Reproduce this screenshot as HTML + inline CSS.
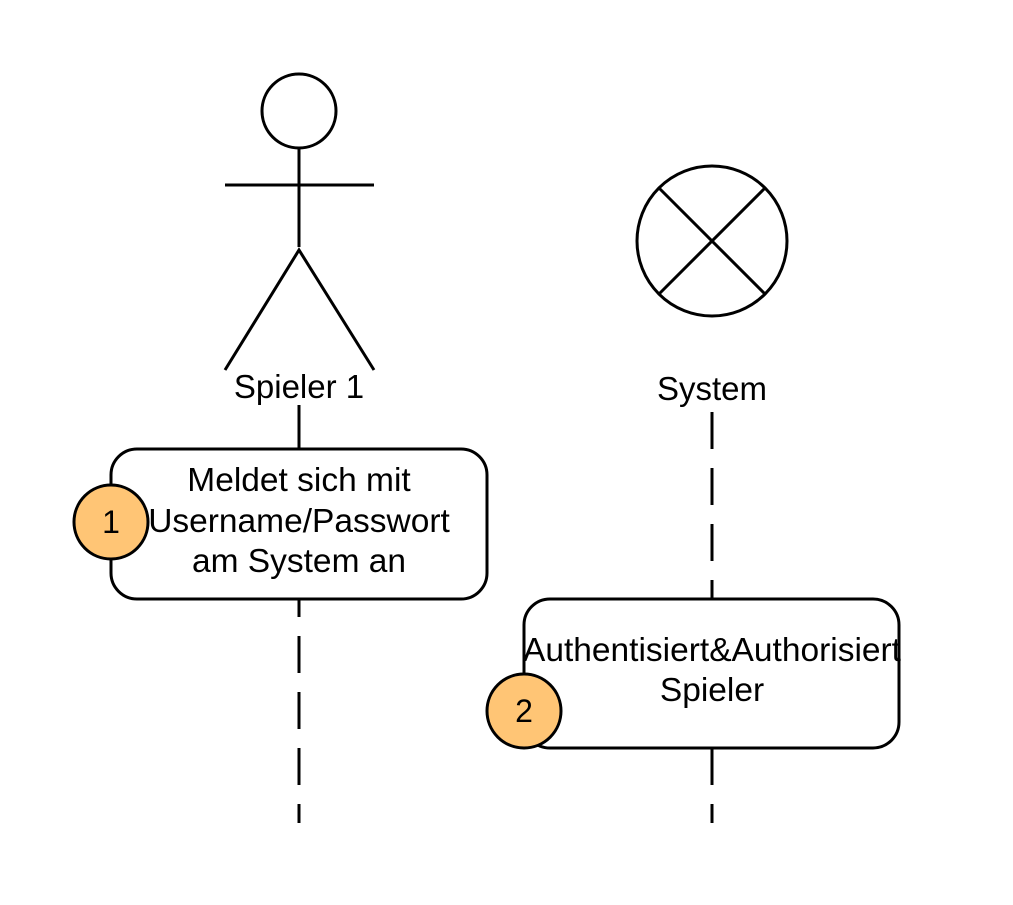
<!DOCTYPE html>
<html><head><style>body{margin:0;background:#fff} text{font-family:"Liberation Sans",Arial,sans-serif}</style></head><body>
<svg width="1013" height="900" xmlns="http://www.w3.org/2000/svg">
<g stroke="#000" stroke-width="3" fill="none">
<circle cx="299" cy="111" r="37" fill="#fff"/>
<line x1="299" y1="148" x2="299" y2="247"/>
<line x1="225" y1="185" x2="374" y2="185"/>
<polyline points="225,370 299,250 374,370"/>
<circle cx="712" cy="241" r="75" fill="#fff"/>
<line x1="659" y1="188" x2="765" y2="294"/>
<line x1="765" y1="188" x2="659" y2="294"/>
<line x1="299" y1="405" x2="299" y2="449"/>
<line x1="299" y1="449" x2="299" y2="823" stroke-dasharray="37 19" stroke-dashoffset="-19"/>
<line x1="712" y1="412" x2="712" y2="823" stroke-dasharray="37 19"/>
<rect x="111" y="449" width="376" height="150" rx="26" fill="#fff"/>
<rect x="524" y="599" width="375" height="149" rx="26" fill="#fff"/>
<circle cx="111" cy="522" r="37" fill="#FFC575"/>
<circle cx="524" cy="711" r="37" fill="#FFC575"/>
</g>
<g fill="#000" text-anchor="middle">
<text x="299" y="398" font-size="33">Spieler 1</text>
<text x="712" y="400" font-size="33">System</text>
<text x="299" y="491" font-size="33.5">Meldet sich mit</text>
<text x="299" y="532" font-size="33.5">Username/Passwort</text>
<text x="299" y="572" font-size="33.5">am System an</text>
<text x="712" y="661" font-size="33.5">Authentisiert&amp;Authorisiert</text>
<text x="712" y="701" font-size="33.5">Spieler</text>
<text x="111" y="533" font-size="32">1</text>
<text x="524" y="722" font-size="32">2</text>
</g>
</svg>
</body></html>
